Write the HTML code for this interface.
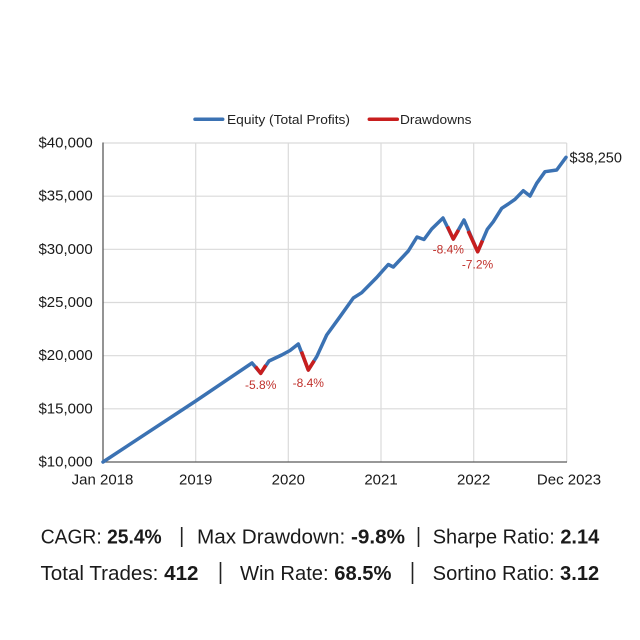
<!DOCTYPE html>
<html>
<head>
<meta charset="utf-8">
<style>
  html,body{margin:0;padding:0;background:#fff;}
  svg{display:block;}
  text{font-family:"Liberation Sans",Arial,sans-serif;}
</style>
</head>
<body>
<svg width="640" height="640" viewBox="0 0 640 640" xmlns="http://www.w3.org/2000/svg">
  <rect x="0" y="0" width="640" height="640" fill="#ffffff"/>

  <!-- Legend -->
  <line x1="195" y1="119.3" x2="222.7" y2="119.3" stroke="#3b72b3" stroke-width="3.5" stroke-linecap="round"/>
  <text x="227" y="124" font-size="13" fill="#222" textLength="123" lengthAdjust="spacingAndGlyphs">Equity (Total Profits)</text>
  <line x1="369.3" y1="119.3" x2="397.3" y2="119.3" stroke="#c81e1e" stroke-width="3.5" stroke-linecap="round"/>
  <text x="400" y="124" font-size="13" fill="#222" textLength="71.5" lengthAdjust="spacingAndGlyphs">Drawdowns</text>

  <!-- Grid -->
  <g stroke="#dadada" stroke-width="1.2">
    <line x1="103" y1="143" x2="566.7" y2="143"/>
    <line x1="103" y1="196.2" x2="566.7" y2="196.2"/>
    <line x1="103" y1="249.3" x2="566.7" y2="249.3"/>
    <line x1="103" y1="302.5" x2="566.7" y2="302.5"/>
    <line x1="103" y1="355.7" x2="566.7" y2="355.7"/>
    <line x1="103" y1="408.8" x2="566.7" y2="408.8"/>
    <line x1="195.7" y1="143" x2="195.7" y2="462"/>
    <line x1="288.3" y1="143" x2="288.3" y2="462"/>
    <line x1="381" y1="143" x2="381" y2="462"/>
    <line x1="473.7" y1="143" x2="473.7" y2="462"/>
    <line x1="566.7" y1="143" x2="566.7" y2="462"/>
  </g>
  <!-- Axes -->
  <line x1="103" y1="142.5" x2="103" y2="462" stroke="#5a5a5a" stroke-width="1.3"/>
  <line x1="103" y1="462" x2="567" y2="462" stroke="#5a5a5a" stroke-width="1.3"/>

  <!-- Y labels -->
  <g font-size="15" fill="#1a1a1a" text-anchor="end">
    <text x="92.7" y="147.5">$40,000</text>
    <text x="92.7" y="200.7">$35,000</text>
    <text x="92.7" y="253.8">$30,000</text>
    <text x="92.7" y="307">$25,000</text>
    <text x="92.7" y="360.2">$20,000</text>
    <text x="92.7" y="413.3">$15,000</text>
    <text x="92.7" y="466.5">$10,000</text>
  </g>
  <!-- X labels -->
  <g font-size="15" fill="#1a1a1a" text-anchor="middle">
    <text x="102.5" y="484.5">Jan 2018</text>
    <text x="195.7" y="484.5">2019</text>
    <text x="288.3" y="484.5">2020</text>
    <text x="381" y="484.5">2021</text>
    <text x="473.7" y="484.5">2022</text>
    <text x="569" y="484.5">Dec 2023</text>
  </g>

  <!-- Equity line -->
  <polyline fill="none" stroke="#3b72b3" stroke-width="3.5" stroke-linejoin="round" stroke-linecap="round"
    points="103,462 195,401.5 252,363 260.7,373.3 269,361 281.7,355 290,350.5 298.3,344 308.3,370 316.7,356.7 326.7,335 340,316.7 353.3,298 361.7,292.7 376.7,277.5 388.3,264.5 393.3,267 408.3,251 417,237 424,239.5 431.7,229 443,218 453.3,239 464,220 477.7,251.7 487.3,229.3 493.3,221.7 501.7,208.3 508.3,204 515,199.3 523.3,190.7 530,196 536.7,183.3 545,171.7 556.7,170 566,157.3"/>

  <!-- Drawdown overlays -->
  <g fill="none" stroke="#c81e1e" stroke-width="3.6" stroke-linejoin="round">
    <polyline points="255.5,366.6 260.7,373.3 265.8,365.2"/>
    <polyline points="301.5,351.6 308.3,370 314.2,360.7"/>
    <polyline points="447.5,226.5 453.3,239 458.5,230"/>
    <polyline points="468.2,231 477.7,251.7 482.5,240.5"/>
  </g>

  <!-- Drawdown labels -->
  <g font-size="12" fill="#c0302b" text-anchor="middle">
    <text x="260.7" y="389">-5.8%</text>
    <text x="308.3" y="387">-8.4%</text>
    <text x="448.3" y="253.5">-8.4%</text>
    <text x="477.5" y="268.5">-7.2%</text>
  </g>

  <!-- End label -->
  <text x="569.5" y="162.5" font-size="14.5" fill="#1a1a1a">$38,250</text>

  <!-- Stats -->
  <g font-size="20" fill="#1a1a1a">
    <text x="40.7" y="543.3" textLength="121" lengthAdjust="spacingAndGlyphs">CAGR: <tspan font-weight="bold">25.4%</tspan></text>
    <text x="197" y="543.3" textLength="208" lengthAdjust="spacingAndGlyphs">Max Drawdown: <tspan font-weight="bold">-9.8%</tspan></text>
    <text x="432.7" y="543.3" textLength="166.5" lengthAdjust="spacingAndGlyphs">Sharpe Ratio: <tspan font-weight="bold">2.14</tspan></text>

    <text x="40.5" y="580" textLength="158" lengthAdjust="spacingAndGlyphs">Total Trades: <tspan font-weight="bold">412</tspan></text>
    <text x="240" y="580" textLength="151.5" lengthAdjust="spacingAndGlyphs">Win Rate: <tspan font-weight="bold">68.5%</tspan></text>
    <text x="432.7" y="580" textLength="166.5" lengthAdjust="spacingAndGlyphs">Sortino Ratio: <tspan font-weight="bold">3.12</tspan></text>
  </g>
  <g stroke="#222" stroke-width="1.6">
    <line x1="181.7" y1="527" x2="181.7" y2="547"/>
    <line x1="418.5" y1="527" x2="418.5" y2="547"/>
    <line x1="220.5" y1="562" x2="220.5" y2="584"/>
    <line x1="412.5" y1="562" x2="412.5" y2="584"/>
  </g>
</svg>
</body>
</html>
